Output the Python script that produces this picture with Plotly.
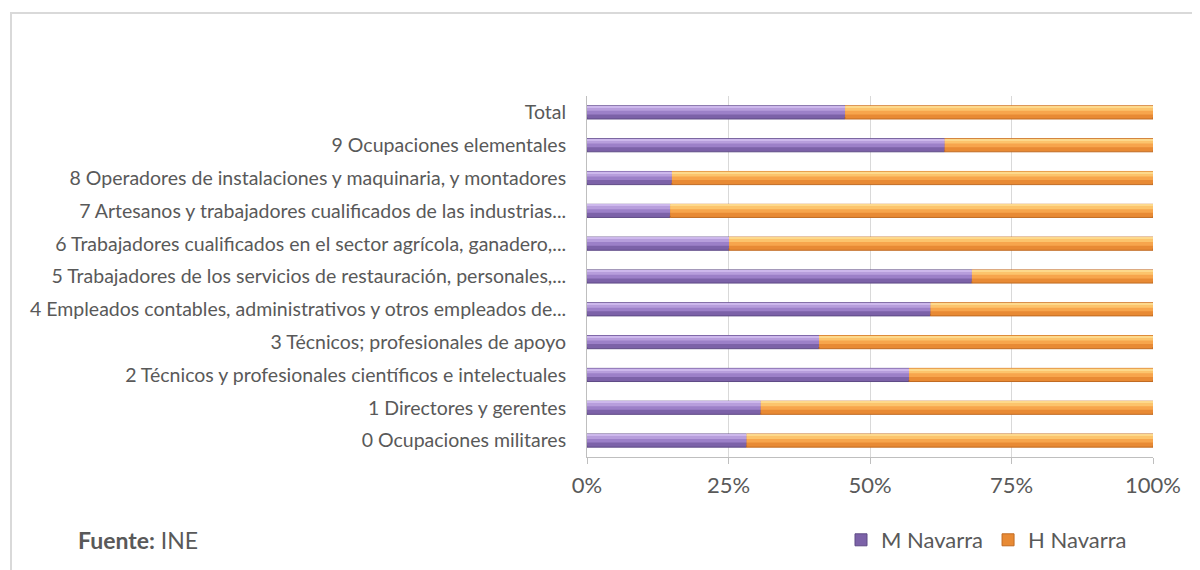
import plotly.graph_objects as go

categories = [
    "0 Ocupaciones militares",
    "1 Directores y gerentes",
    "2 Técnicos y profesionales científicos e intelectuales",
    "3 Técnicos; profesionales de apoyo",
    "4 Empleados contables, administrativos y otros empleados de...",
    "5 Trabajadores de los servicios de restauración, personales,...",
    "6 Trabajadores cualificados en el sector agrícola, ganadero,...",
    "7 Artesanos y trabajadores cualificados de las industrias...",
    "8 Operadores de instalaciones y maquinaria, y montadores",
    "9 Ocupaciones elementales",
    "Total",
]
m_navarra = [28.2, 30.7, 56.9, 41.0, 60.7, 68.0, 25.1, 14.7, 15.0, 63.2, 45.6]
h_navarra = [round(100 - v, 1) for v in m_navarra]
tick_vals = [0, 25, 50, 75, 100]
tick_text = ["0%", "25%", "50%", "75%", "100%"]

FONT = "Lato"
GREY = "#595959"

# the page body has an 8px margin; work in screenshot pixels and compensate
OFF = 8
L, R, T, B = 587 - OFF, 1153 - OFF, 96 - OFF, 457 - OFF
W, H = 1200, 570


def px_x(px):
    return (px - OFF - L) / (R - L)


def px_y(py):
    return (B - (py - OFF)) / (B - T)


fig = go.Figure()

# layered bevel look: (width, offset, purple colour, orange colour)
layers = [
    (0.40, -0.20, "#5E4A85", "#C06A22"),
    (0.34, -0.15, "#7C62A8", "#E88A34"),
    (0.26, -0.06, "#9C80C8", "#F7A54C"),
    (0.12, 0.05, "#B79EDC", "#FCC46C"),
    (0.04, 0.15, "#CDB8EC", "#FDD98C"),
]

for i, (w, off, pc, oc) in enumerate(layers):
    main = i == 0
    fig.add_trace(go.Bar(
        y=categories, x=m_navarra, base=[0] * len(m_navarra),
        orientation="h", width=w, offset=off,
        marker=dict(color=pc, line=dict(width=0)),
        name="M Navarra", legendgroup="M", showlegend=main,
        hoverinfo="skip" if not main else None,
    ))
    fig.add_trace(go.Bar(
        y=categories, x=h_navarra, base=m_navarra,
        orientation="h", width=w, offset=off,
        marker=dict(color=oc, line=dict(width=0)),
        name="H Navarra", legendgroup="H", showlegend=main,
        hoverinfo="skip" if not main else None,
    ))

fig.data[0].marker.color = "#7C62A8"
fig.data[1].marker.color = "#E88A34"
fig.data[0].marker.line = dict(color="#5E4A85", width=1)
fig.data[1].marker.line = dict(color="#C06A22", width=1)

fig.update_layout(
    width=W, height=H, autosize=False,
    barmode="overlay",
    paper_bgcolor="white", plot_bgcolor="white",
    margin=dict(l=L, r=W - R, t=T, b=H - B, pad=0),
    font=dict(family=FONT, color=GREY),
    xaxis=dict(
        range=[0, 100], tickvals=tick_vals, ticktext=tick_text,
        showgrid=True, gridcolor="#D9D9D9", gridwidth=1,
        zeroline=False, showline=True, linecolor="#BFBFBF", linewidth=1,
        ticks="outside", ticklen=6, tickcolor="#BFBFBF",
        ticklabelstandoff=3,
        tickfont=dict(family=FONT, size=22, color=GREY),
        fixedrange=True,
    ),
    yaxis=dict(
        type="category", categoryorder="array", categoryarray=categories,
        range=[-0.5, len(categories) - 0.5],
        showgrid=False, zeroline=False,
        showline=True, linecolor="#BFBFBF", linewidth=1,
        ticks="", ticklabelstandoff=16,
        tickfont=dict(family=FONT, size=19.5, color=GREY),
        fixedrange=True,
    ),
    legend=dict(
        orientation="h", x=px_x(841), y=px_y(540),
        xanchor="left", yanchor="middle",
        font=dict(family=FONT, size=22, color=GREY),
        bgcolor="rgba(0,0,0,0)", itemwidth=30,
        traceorder="normal",
    ),
    showlegend=True,
    shapes=[dict(
        type="rect", xref="paper", yref="paper",
        x0=px_x(11), x1=px_x(1230), y0=px_y(13), y1=px_y(600),
        line=dict(color="#D9D9D9", width=2), fillcolor="rgba(0,0,0,0)",
        layer="below",
    )],
    annotations=[dict(
        xref="paper", yref="paper", x=px_x(76), y=px_y(540),
        xanchor="left", yanchor="middle", showarrow=False,
        text="<b>Fuente:</b> INE",
        font=dict(family=FONT, size=23, color=GREY),
    )],
)

fig.write_html("out.html")
